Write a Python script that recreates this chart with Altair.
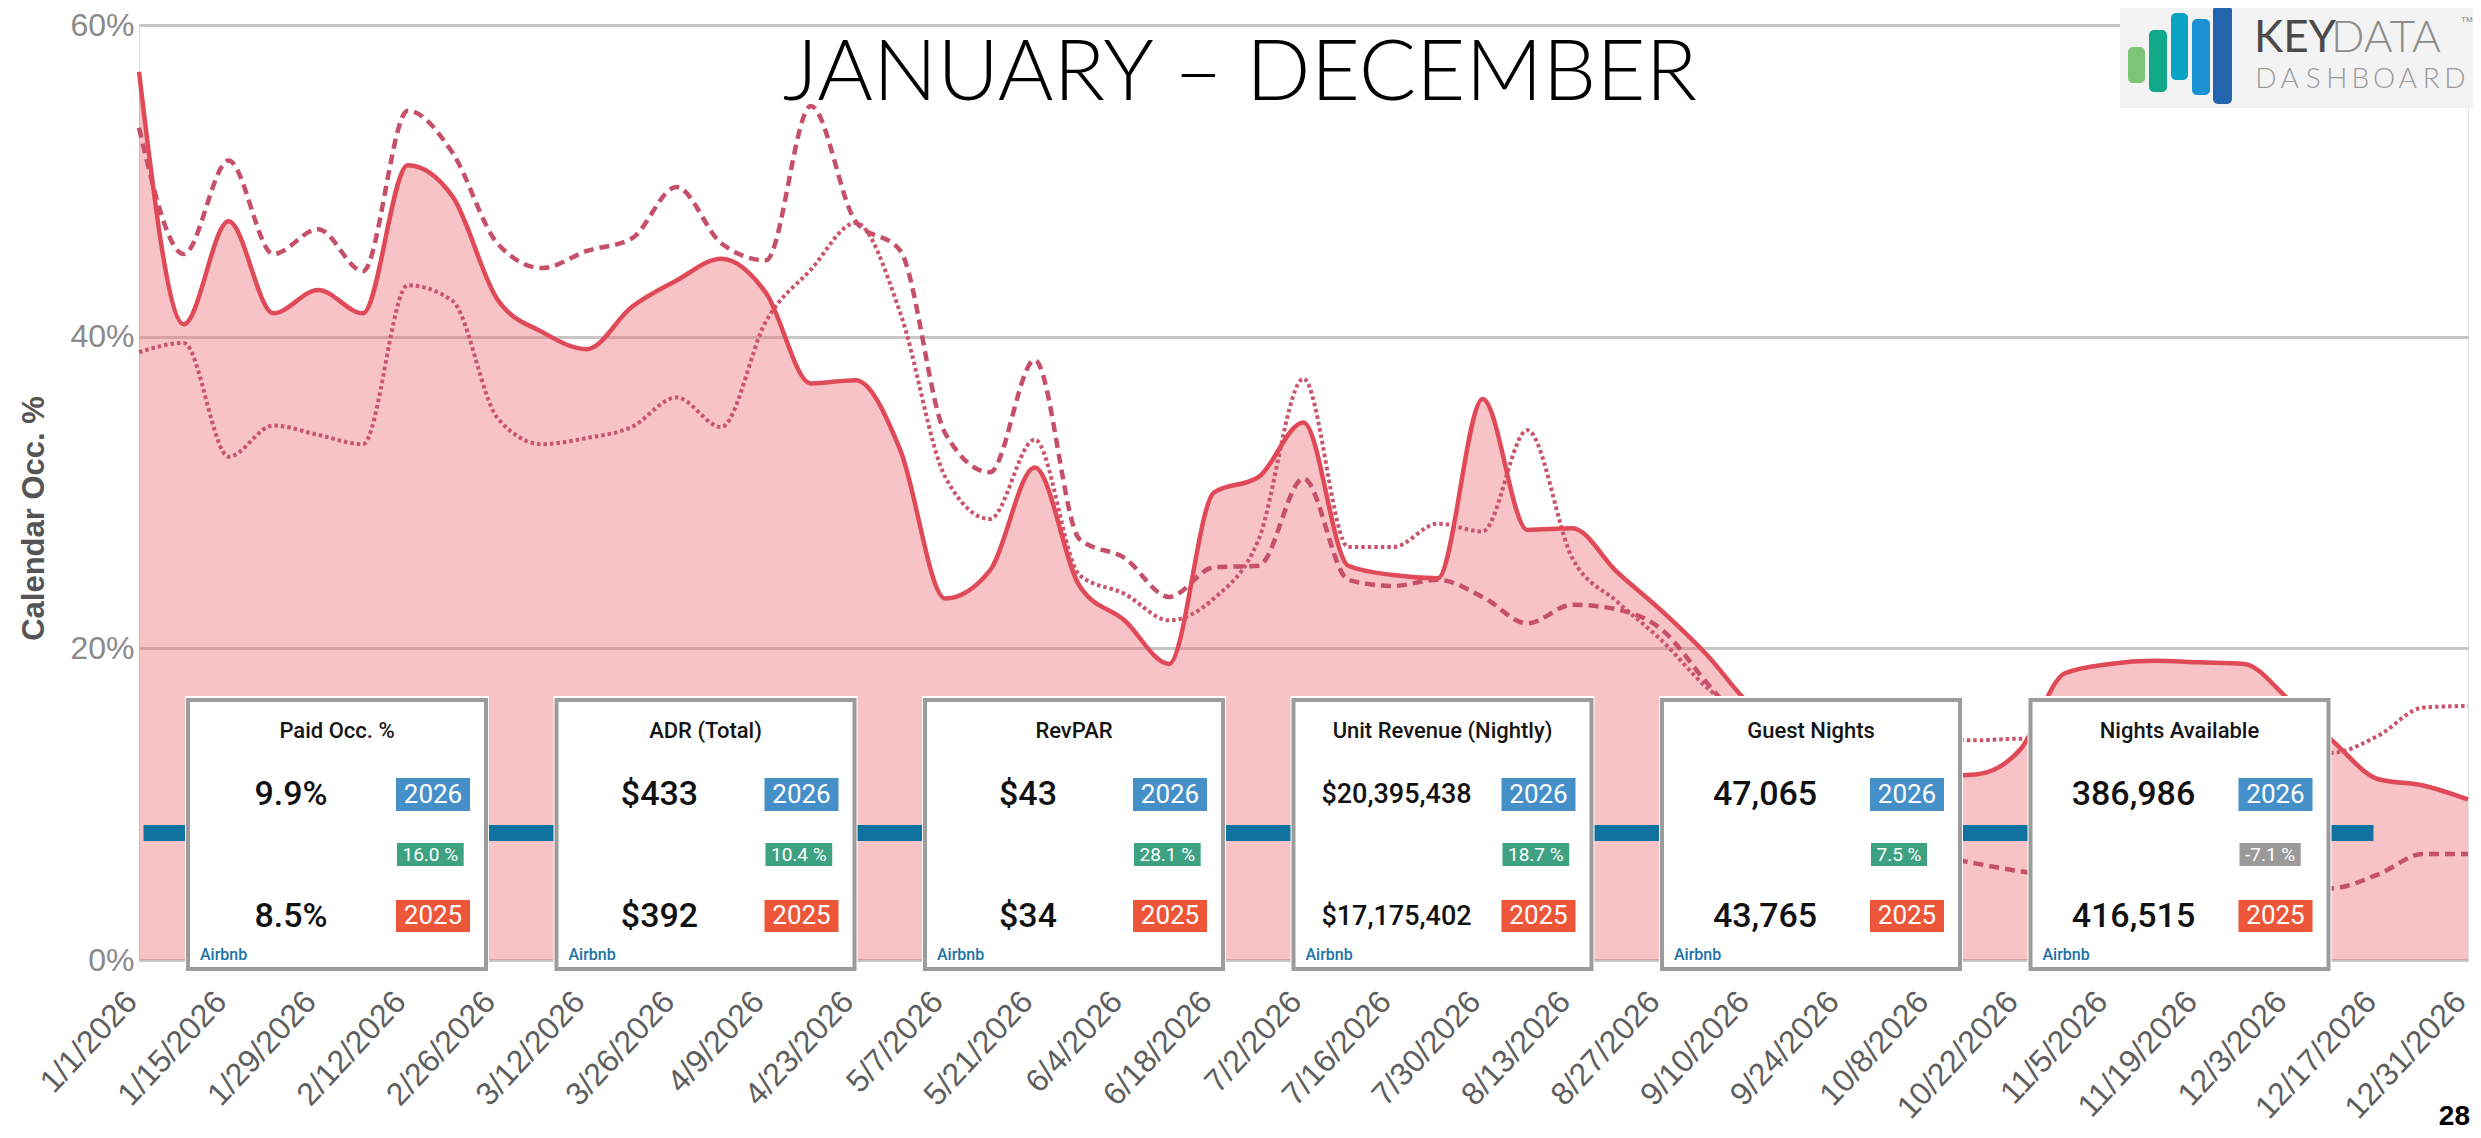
import altair as alt
import pandas as pd

# ---------------- data ----------------
week_dates = pd.date_range("2026-01-01", "2026-12-31", freq="7D")   # 53 weekly points
tick_dates = pd.date_range("2026-01-01", "2026-12-31", freq="14D")  # axis labels

# Calendar occupancy %, solid line with area (2026)
occ_2026 = [57.0, 40.8, 47.4, 41.5, 43.0, 41.5, 51.0, 49.0, 42.4, 40.3,
            39.2, 41.9, 43.6, 45.0, 42.8, 37.0, 37.2, 32.7, 23.2, 25.0,
            31.6, 24.0, 21.8, 19.0, 30.0, 31.0, 34.5, 25.3, 24.7, 24.5,
            36.0, 27.6, 27.7, 24.9, 22.4, 19.6, 16.3, 14.5, 13.0, 12.3,
            11.8, 11.9, 13.5, 18.4, 19.0, 19.2, 19.1, 19.0, 16.7, 14.0,
            11.6, 11.2, 10.3]
# dashed line (2025)
occ_2025 = [53.4, 45.3, 51.3, 45.3, 46.9, 44.2, 54.5, 51.8, 46.0, 44.4,
            45.5, 46.3, 49.6, 46.0, 44.9, 54.8, 47.4, 45.5, 33.8, 31.3,
            38.5, 27.0, 25.8, 23.3, 25.2, 25.3, 30.9, 24.4, 24.0, 24.4,
            23.3, 21.6, 22.8, 22.5, 21.2, 17.8, 14.5, 11.5, 9.2, 7.6,
            6.8, 6.2, 5.7, 5.4, 5.2, 5.0, 4.8, 4.6, 4.5, 4.6,
            5.5, 6.8, 6.8]
# dotted line (2024)
occ_2024 = [39.0, 39.6, 32.3, 34.3, 33.7, 33.1, 43.3, 42.3, 34.8, 33.1,
            33.5, 34.2, 36.1, 34.2, 41.0, 44.3, 47.3, 41.5, 31.0, 28.3,
            33.4, 24.7, 23.5, 21.8, 23.2, 27.0, 37.3, 26.5, 26.5, 28.0,
            27.5, 34.0, 25.8, 23.0, 20.5, 17.5, 15.5, 14.8, 14.5, 14.3,
            14.2, 14.1, 14.2, 14.0, 13.8, 13.6, 13.4, 13.3, 13.2, 13.3,
            14.4, 16.2, 16.3]

y_ticks = [0, 20, 40, 60]

card_titles = ["Paid Occ. %", "ADR (Total)", "RevPAR", "Unit Revenue (Nightly)",
               "Guest Nights", "Nights Available"]
card_2026 = ["9.9%", "$433", "$43", "$20,395,438", "47,065", "386,986"]
card_2025 = ["8.5%", "$392", "$34", "$17,175,402", "43,765", "416,515"]
card_change = ["16.0 %", "10.4 %", "28.1 %", "18.7 %", "7.5 %", "-7.1 %"]
card_source = "Airbnb"

title_text = "JANUARY \u2013 DECEMBER"
page_number = "28"

# ---------------- layout ----------------
PLOT_W, PLOT_H = 2329, 935
FONT = "Roboto"

start = week_dates[0]
days = [(d - start).days for d in week_dates]
tick_days = [(d - start).days for d in tick_dates]

df26 = pd.DataFrame({"day": days, "occ": occ_2026})
df25 = pd.DataFrame({"day": days, "occ": occ_2025})
df24 = pd.DataFrame({"day": days, "occ": occ_2024})

x_enc = alt.X(
    "day:Q",
    scale=alt.Scale(domain=[0, 364], nice=False, zero=False),
    axis=alt.Axis(
        values=tick_days,
        labelExpr="timeFormat(datetime(2026, 0, 1 + datum.value), '%-m/%-d/%Y')",
        labelAngle=-47, labelAlign="right", labelBaseline="middle",
        labelFontSize=32, labelColor="#5e5e5e", labelFont="Liberation Sans",
        labelPadding=36, labelOffset=-8, ticks=False, domain=False, grid=False,
        labelOverlap=False, labelBound=False, labelFlush=False,
    ),
    title=None,
)
y_enc = alt.Y(
    "occ:Q",
    scale=alt.Scale(domain=[0, 60], nice=False),
    axis=alt.Axis(
        values=y_ticks, labelExpr="datum.value + '%'",
        labelFontSize=32, labelColor="#8a8a8a", labelFont="Liberation Sans",
        labelPadding=5, ticks=False, domain=False,
        grid=True, gridColor="#c6c6c6", gridWidth=3,
        title="Calendar Occ. %", titleFontSize=31, titleFontWeight="bold",
        titleColor="#555555", titleFont="Liberation Sans",
        titleAngle=-90, titleX=-96, titleY=493, titleAlign="center",
        titleBaseline="alphabetic",
    ),
)

area = alt.Chart(df26).mark_area(interpolate="monotone", color="#ec6a70",
                                 opacity=0.4).encode(x=x_enc, y=y_enc)
line24 = alt.Chart(df24).mark_line(interpolate="monotone", color="#c9546c",
                                   strokeWidth=4, strokeDash=[3.5, 3]).encode(x=x_enc, y=y_enc)
line25 = alt.Chart(df25).mark_line(interpolate="monotone", color="#c6506a",
                                   strokeWidth=4.5, strokeDash=[10, 6]).encode(x=x_enc, y=y_enc)
line26 = alt.Chart(df26).mark_line(interpolate="monotone", color="#e04a58",
                                   strokeWidth=4.5).encode(x=x_enc, y=y_enc)
main = alt.layer(area, line24, line25, line26)


def px(f):
    return alt.X(f"{f}:Q", scale=None, axis=None)


def py(f):
    return alt.Y(f"{f}:Q", scale=None, axis=None)


# blue connector bar behind the cards
CARD_L0, CARD_STEP, CARD_W = 46, 368.5, 304
bar_df = pd.DataFrame({"x0": [4.5], "x1": [CARD_L0 + 5 * CARD_STEP + CARD_W + 42],
                       "y0": [800], "y1": [816]})
blue_bar = alt.Chart(bar_df).mark_rect(color="#10739f").encode(
    x=px("x0"), x2=alt.X2("x1:Q"), y=py("y0"), y2=alt.Y2("y1:Q"))

# cards
char_w = {"-": 5.2, ".": 5.0, " ": 4.7, "%": 13.9}
rows = []
for i, t in enumerate(card_titles):
    L = CARD_L0 + CARD_STEP * i
    chg = card_change[i]
    w = sum(char_w.get(c, 10.7) for c in chg) + 11
    rows.append(dict(
        title=t, v26=card_2026[i], v25=card_2025[i], chg=chg,
        chg_color="#9a9a9a" if chg.startswith("-") else "#3ea282",
        vsize=27 if len(card_2026[i]) > 8 else 34,
        L=L, R=L + CARD_W, Lb=L + 3, Rb=L + 301,
        tx=L + 152, vx=L + 106,
        bx0=L + 211, bx1=L + 285, btx=L + 248,
        cx0=L + 212, cx1=L + 212 + w, ctx=L + 212 + w / 2,
        ax=L + 15, src=card_source,
        y26=2026, y25=2025,
    ))
cards = pd.DataFrame(rows)
cards["T"], cards["B"] = 671, 947
cards["Tb"], cards["Bb"] = 675, 944
cards["ty"], cards["v26y"], cards["v25y"], cards["ay"] = 706, 770, 892, 930
cards["b26y0"], cards["b26y1"], cards["b26ty"] = 753, 786, 770
cards["b25y0"], cards["b25y1"], cards["b25ty"] = 875, 907, 891
cards["cy0"], cards["cy1"], cards["cty"] = 818, 841, 830

card_bg = alt.Chart(cards).mark_rect(fill="white").encode(
    x=px("L"), x2=alt.X2("R:Q"), y=py("T"), y2=alt.Y2("B:Q"))
card_border = alt.Chart(cards).mark_rect(fill="white", stroke="#9c9c9c", strokeWidth=4).encode(
    x=px("Lb"), x2=alt.X2("Rb:Q"), y=py("Tb"), y2=alt.Y2("Bb:Q"))
card_title = alt.Chart(cards).mark_text(font=FONT, fontSize=22, fontWeight=500, color="#151515",
                                        align="center", baseline="middle").encode(
    x=px("tx"), y=py("ty"), text="title:N")
val26 = alt.Chart(cards).mark_text(font=FONT, fontWeight=500, color="#111111",
                                   align="center", baseline="middle").encode(
    x=px("vx"), y=py("v26y"), text="v26:N", size=alt.Size("vsize:Q", scale=None))
val25 = alt.Chart(cards).mark_text(font=FONT, fontWeight=500, color="#111111",
                                   align="center", baseline="middle").encode(
    x=px("vx"), y=py("v25y"), text="v25:N", size=alt.Size("vsize:Q", scale=None))
b26 = alt.Chart(cards).mark_rect(color="#4690ca").encode(
    x=px("bx0"), x2=alt.X2("bx1:Q"), y=py("b26y0"), y2=alt.Y2("b26y1:Q"))
b26t = alt.Chart(cards).mark_text(font=FONT, fontSize=26, color="white",
                                  align="center", baseline="middle").encode(
    x=px("btx"), y=py("b26ty"), text="y26:N")
b25 = alt.Chart(cards).mark_rect(color="#ee5639").encode(
    x=px("bx0"), x2=alt.X2("bx1:Q"), y=py("b25y0"), y2=alt.Y2("b25y1:Q"))
b25t = alt.Chart(cards).mark_text(font=FONT, fontSize=26, color="white",
                                  align="center", baseline="middle").encode(
    x=px("btx"), y=py("b25ty"), text="y25:N")
chg_b = alt.Chart(cards).mark_rect().encode(
    x=px("cx0"), x2=alt.X2("cx1:Q"), y=py("cy0"), y2=alt.Y2("cy1:Q"),
    color=alt.Color("chg_color:N", scale=None))
chg_t = alt.Chart(cards).mark_text(font=FONT, fontSize=19, color="white",
                                   align="center", baseline="middle").encode(
    x=px("ctx"), y=py("cty"), text="chg:N")
src_t = alt.Chart(cards).mark_text(font=FONT, fontSize=16, fontWeight=500, color="#1b72a6",
                                   align="left", baseline="middle").encode(
    x=px("ax"), y=py("ay"), text="src:N")

# title
title_df = pd.DataFrame({"t": [title_text], "x": [1101], "y": [75]})
title = alt.Chart(title_df).mark_text(font="Lato", fontWeight=300, fontSize=85, color="#000000",
                                      align="center", baseline="alphabetic").encode(
    x=px("x"), y=py("y"), text="t:N")

# logo
logo_bg_df = pd.DataFrame({"x0": [1981], "x1": [2340], "y0": [-20], "y1": [83]})
logo_bg = alt.Chart(logo_bg_df).mark_rect(color="#f3f3f3").encode(
    x=px("x0"), x2=alt.X2("x1:Q"), y=py("y0"), y2=alt.Y2("y1:Q"))
logo_bars_df = pd.DataFrame({
    "x0": [1989, 2010, 2032, 2053, 2074],
    "x1": [2006, 2028, 2049, 2071, 2093],
    "y0": [22, 5, -12, -6, -20],
    "y1": [58, 67, 55, 70, 79],
    "c": ["#7cc576", "#12a98b", "#0ba3c4", "#1b91d1", "#2463ae"],
})
logo_bars = alt.Chart(logo_bars_df).mark_rect(cornerRadius=5).encode(
    x=px("x0"), x2=alt.X2("x1:Q"), y=py("y0"), y2=alt.Y2("y1:Q"),
    color=alt.Color("c:N", scale=None))
logo_word_df = pd.DataFrame({"t": ["KEY", "DATA"], "x": [2115, 2192], "y": [27, 27],
                             "c": ["#4a4a4a", "#8c8c8c"]})
logo_key = alt.Chart(logo_word_df.iloc[:1]).mark_text(font="Lato", fontWeight=400, fontSize=44,
                                                      align="left", baseline="alphabetic").encode(
    x=px("x"), y=py("y"), text="t:N", color=alt.Color("c:N", scale=None))
logo_data = alt.Chart(logo_word_df.iloc[1:]).mark_text(font="Lato", fontWeight=300, fontSize=44,
                                                       align="left", baseline="alphabetic").encode(
    x=px("x"), y=py("y"), text="t:N", color=alt.Color("c:N", scale=None))
dash_letters = list("DASHBOARD")
dash_df = pd.DataFrame({"t": dash_letters,
                        "x": [2115 + 12 + 23.6 * j for j in range(len(dash_letters))],
                        "y": [63] * len(dash_letters)})
logo_dash = alt.Chart(dash_df).mark_text(font="Lato", fontWeight=300, fontSize=28, color="#9a9a9a",
                                         align="center", baseline="alphabetic").encode(
    x=px("x"), y=py("y"), text="t:N")
tm_df = pd.DataFrame({"t": ["TM"], "x": [2322], "y": [-3]})
logo_tm = alt.Chart(tm_df).mark_text(font="Liberation Sans", fontSize=8, color="#888888",
                                     align="left", baseline="alphabetic").encode(
    x=px("x"), y=py("y"), text="t:N")

page_df = pd.DataFrame({"t": [page_number], "x": [2331], "y": [1100]})
page_t = alt.Chart(page_df).mark_text(font="Liberation Sans", fontWeight="bold", fontSize=28,
                                      color="#000000", align="right", baseline="alphabetic").encode(
    x=px("x"), y=py("y"), text="t:N")

chart = alt.layer(
    main, blue_bar,
    card_bg, card_border, card_title, val26, val25, b26, b26t, b25, b25t, chg_b, chg_t, src_t,
    title, logo_bg, logo_bars, logo_key, logo_data, logo_dash, logo_tm, page_t,
).resolve_scale(x="independent", y="independent").properties(
    width=PLOT_W, height=PLOT_H,
    autosize=alt.AutoSizeParams(type="none"),
    padding={"left": 131, "top": 17, "right": 5, "bottom": 170},
    background="white",
).configure_view(strokeWidth=0).configure(font=FONT)

chart.save("out.html", embed_options={"renderer": "svg", "actions": False})
